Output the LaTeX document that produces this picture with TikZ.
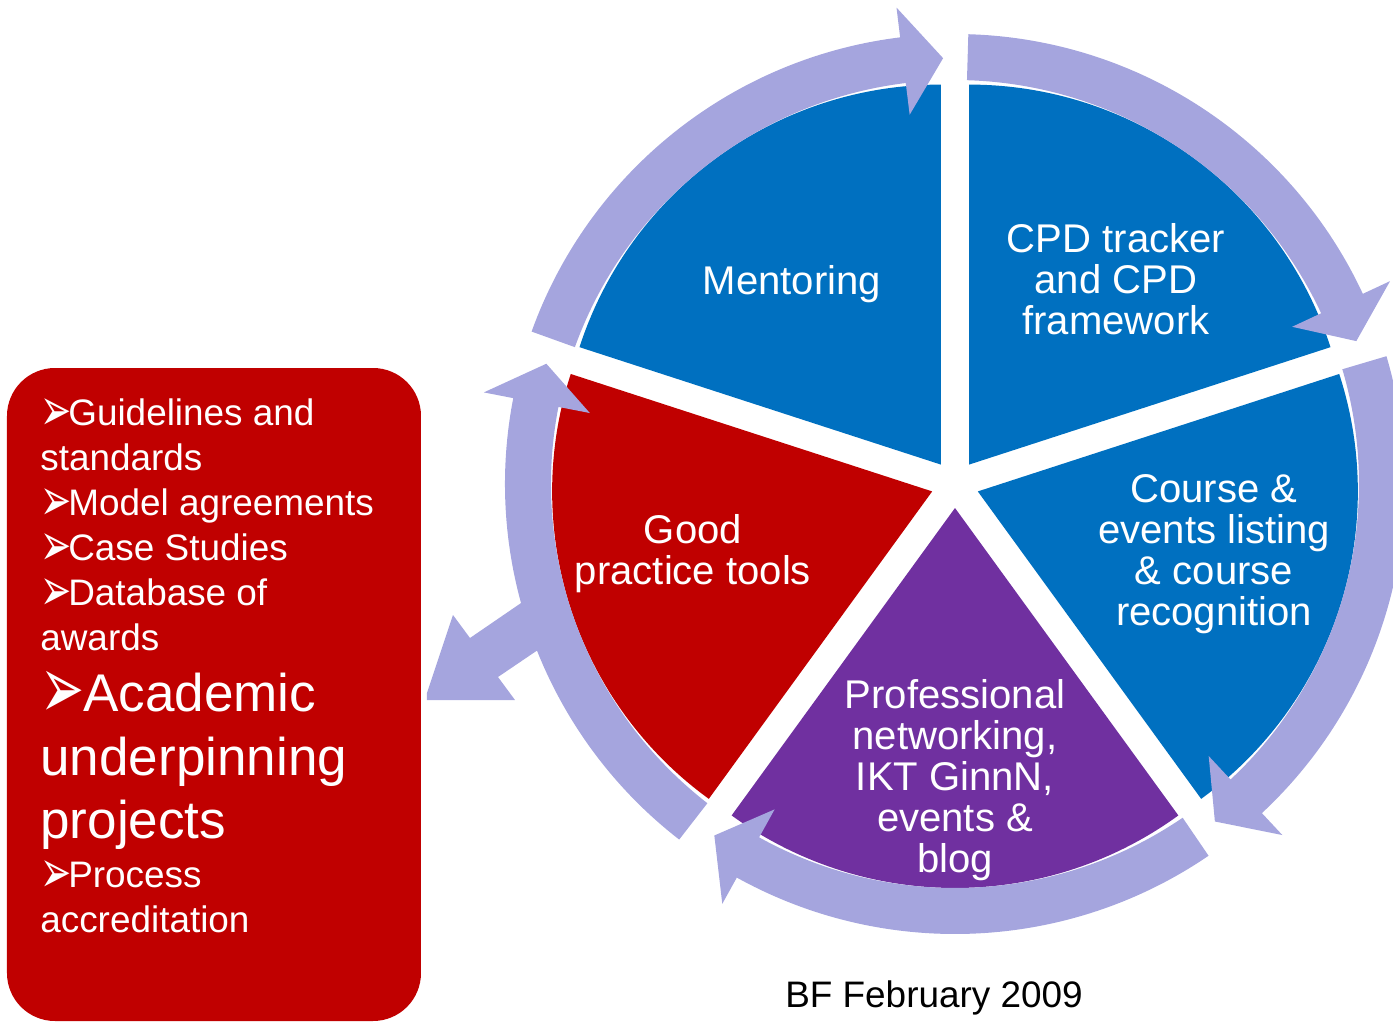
\documentclass[tikz,border=0pt]{standalone}
\usepackage{graphicx}
\usepackage{fontspec}
\setmainfont{Liberation Sans}
\newfontfamily\symfont{DejaVu Sans}
\definecolor{wedgeblue}{RGB}{0,112,192}
\definecolor{wedgered}{RGB}{192,0,0}
\definecolor{wedgepurple}{RGB}{112,48,160}
\definecolor{ringlilac}{RGB}{165,165,222}
\newcommand{\smallbul}{\makebox[0.56cm][l]{\smash{\raisebox{-3pt}{\scalebox{1.25}[2.0]{\fontsize{17pt}{17pt}\symfont ➢}}}}}
\newcommand{\bigbul}{\makebox[0.86cm][l]{\smash{\raisebox{-4pt}{\scalebox{1.25}[2.1]{\fontsize{24pt}{24pt}\symfont ➢}}}}}
\newcommand{\ringarrow}[3]{\fill[ringlilac] (#1:404) arc[start angle=#1,end angle=#2,radius=404] -- (#2:372) -- (#3:426) -- (#2:480) -- (#2:450) arc[start angle=#2,end angle=#1,radius=450] -- cycle;}
\begin{document}
\begin{tikzpicture}[x=0.02cm,y=0.02cm,
  wedgetext/.style={text=white,align=center,inner sep=0pt,font=\fontsize{22.8pt}{23.3pt}\selectfont},
  boxtext/.style={text=white,anchor=base west,inner sep=0pt,font=\fontsize{21pt}{25.6pt}\selectfont},
  bigtext/.style={text=white,anchor=base west,inner sep=0pt,font=\fontsize{30.2pt}{36.4pt}\selectfont}]
\useasboundingbox (-955,-538) rectangle (438,484);
\fill[wedgeblue] (126:24) -- ++(90:380) arc[start angle=90,end angle=162,radius=380] -- cycle;
\fill[wedgeblue] (54:24) -- ++(18:380) arc[start angle=18,end angle=90,radius=380] -- cycle;
\fill[wedgeblue] (-18:24) -- ++(-54:380) arc[start angle=-54,end angle=18,radius=380] -- cycle;
\fill[wedgepurple] (-90:24) -- ++(-126:380) arc[start angle=-126,end angle=-54,radius=380] -- cycle;
\fill[wedgered] (198:24) -- ++(162:380) arc[start angle=162,end angle=234,radius=380] -- cycle;
\ringarrow{160.2}{97}{91.6}
\ringarrow{88.3}{25}{19.6}
\ringarrow{16.5}{-47}{-52.4}
\ringarrow{-55.7}{-119}{-124.4}
\ringarrow{232.2}{169}{163.6}
\fill[ringlilac] (-412,-104) -- (-485,-154) -- (-502,-131) -- (-528,-209) -- (-528,-216) -- (-440,-216) -- (-457,-193) -- (-395,-151) -- cycle;
\fill[wedgered,rounded corners=0.96cm] (-948,-537) rectangle (-534,116);
\node[wedgetext,anchor=base] (mentoring) at (-163,190) {Mentoring};
\node[wedgetext] (cpd) at (161,205) {CPD tracker\\and CPD\\framework};
\node[wedgetext] (course) at (259,-70) {Course \&\\events listing\\\& course\\recognition};
\node[wedgetext] (network) at (0,-296) {Professional\\networking,\\IKT GinnN,\\events \&\\blog};
\node[wedgetext] (tools) at (-262,-70) {Good\\practice tools};
\node[anchor=base,inner sep=0pt,font=\fontsize{21pt}{25pt}\selectfont] (date) at (-21,-523) {BF February 2009};
\foreach \y/\txt [count=\i] in {59/{\smallbul Guidelines and},14/standards,-31/{\smallbul Model agreements},-76/{\smallbul Case Studies},-121/{\smallbul Database of},-166/awards,-403/{\smallbul Process},-448/accreditation}
  \node[boxtext] (item\i) at (-915,\y) {\txt};
\foreach \y/\txt [count=\i] in {-227/{\bigbul Academic},-291/underpinning,-354/projects}
  \node[bigtext] (big\i) at (-915,\y) {\txt};
\end{tikzpicture}
\end{document}
